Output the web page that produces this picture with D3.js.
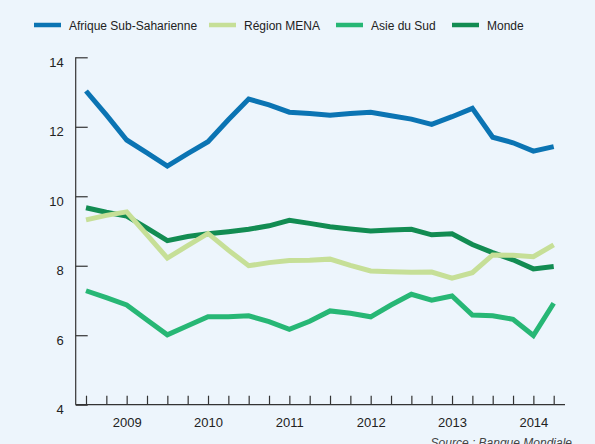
<!DOCTYPE html>
<html>
<head>
<meta charset="utf-8">
<script src="https://cdn.jsdelivr.net/npm/d3@7"></script>
<style>
  html, body { margin: 0; padding: 0; background: #edf5fc; }
  svg { display: block; font-family: "Liberation Sans", Arial, sans-serif; }
</style>
</head>
<body>
<svg id="chart" width="595" height="444"></svg>
<script>
// quarterly points, 2008 T3 -> 2014 T2
const yearLabels = { 2: '2009', 6: '2010', 10: '2011', 14: '2012', 18: '2013', 22: '2014' };
const yTicks = [4, 6, 8, 10, 12, 14];

const afrique = [13.03, 12.34, 11.62, 11.25, 10.87, 11.23, 11.57, 12.2, 12.8, 12.63, 12.42, 12.38,
  12.33, 12.38, 12.42, 12.32, 12.22, 12.07, 12.29, 12.53, 11.7, 11.54, 11.3, 11.43];
const mena = [9.32, 9.45, 9.55, 8.89, 8.22, 8.58, 8.93, 8.45, 8.0, 8.09, 8.15, 8.16,
  8.19, 8.01, 7.85, 7.83, 7.81, 7.82, 7.64, 7.8, 8.31, 8.3, 8.26, 8.6];
const asie = [7.28, 7.08, 6.87, 6.44, 6.01, 6.27, 6.53, 6.53, 6.56, 6.39, 6.17, 6.4,
  6.7, 6.63, 6.53, 6.87, 7.18, 7.01, 7.13, 6.58, 6.56, 6.46, 5.99, 6.92];
const monde = [9.67, 9.54, 9.43, 9.08, 8.72, 8.84, 8.92, 8.98, 9.05, 9.15, 9.31, 9.22,
  9.12, 9.06, 9.0, 9.03, 9.05, 8.89, 8.92, 8.61, 8.38, 8.17, 7.91, 7.98];

const series = [
  { name: 'Afrique Sub-Saharienne', values: afrique, color: '#0b74b3' },
  { name: 'Monde', values: monde, color: '#128c52' },
  { name: 'Asie du Sud', values: asie, color: '#27b775' },
  { name: 'Région MENA', values: mena, color: '#c6df97' }
];
const legendOrder = ['Afrique Sub-Saharienne', 'Région MENA', 'Asie du Sud', 'Monde'];
const legendX = [34, 209, 336, 452];

const svg = d3.select('#chart');

const x = d3.scaleLinear().domain([0, afrique.length - 1]).range([86, 553.7]);
const y = d3.scaleLinear().domain([4, 14]).range([404.7, 57.3]);

// y axis, ticks pointing into the plot
const yAxis = svg.append('g')
  .attr('transform', 'translate(75.7,0)')
  .call(d3.axisLeft(y).tickValues(yTicks).tickSize(-12).tickSizeOuter(0).tickPadding(12));
yAxis.select('.domain').remove();
// labels sit just under their tick in the original
yAxis.selectAll('.tick text').attr('dy', '0.7em');
svg.append('line')
  .attr('x1', 75.7).attr('x2', 75.7)
  .attr('y1', y(14)).attr('y2', y(4))
  .style('stroke', '#333').style('stroke-width', 1.2);

// x axis
const xAxis = svg.append('g')
  .attr('transform', `translate(0,${y(4)})`)
  .call(d3.axisBottom(x)
    .tickValues(d3.range(afrique.length))
    .tickSize(-9)
    .tickPadding(13)
    .tickFormat(i => yearLabels[i] || ''));
xAxis.select('.domain').remove();
svg.append('line')
  .attr('x1', 75.7).attr('x2', 565)
  .attr('y1', y(4)).attr('y2', y(4))
  .style('stroke', '#333').style('stroke-width', 1.2);

svg.selectAll('.tick line').style('stroke', '#333').style('stroke-width', 1.2);
svg.selectAll('.tick text')
  .style('font-size', '13px')
  .style('fill', '#222')
  .style('font-family', '"Liberation Sans", Arial, sans-serif');

const line = d3.line()
  .x((d, i) => x(i))
  .y(d => y(d));

svg.append('g')
  .selectAll('path')
  .data(series)
  .join('path')
  .attr('d', d => line(d.values))
  .style('fill', 'none')
  .style('stroke', d => d.color)
  .style('stroke-width', 5);

// legend
const legend = svg.append('g')
  .selectAll('g')
  .data(legendOrder.map(n => series.find(s => s.name === n)))
  .join('g')
  .attr('transform', (d, i) => `translate(${legendX[i]},25)`);

legend.append('line')
  .attr('x1', 0).attr('x2', 27)
  .style('stroke', d => d.color)
  .style('stroke-width', 4.5);

legend.append('text')
  .attr('x', 35)
  .attr('y', 4.5)
  .style('font-size', '12px')
  .style('fill', '#222')
  .text(d => d.name);

svg.append('text')
  .attr('x', 572)
  .attr('y', 447)
  .attr('text-anchor', 'end')
  .style('font-size', '12px')
  .style('font-style', 'italic')
  .style('fill', '#444')
  .text('Source : Banque Mondiale');
</script>
</body>
</html>
